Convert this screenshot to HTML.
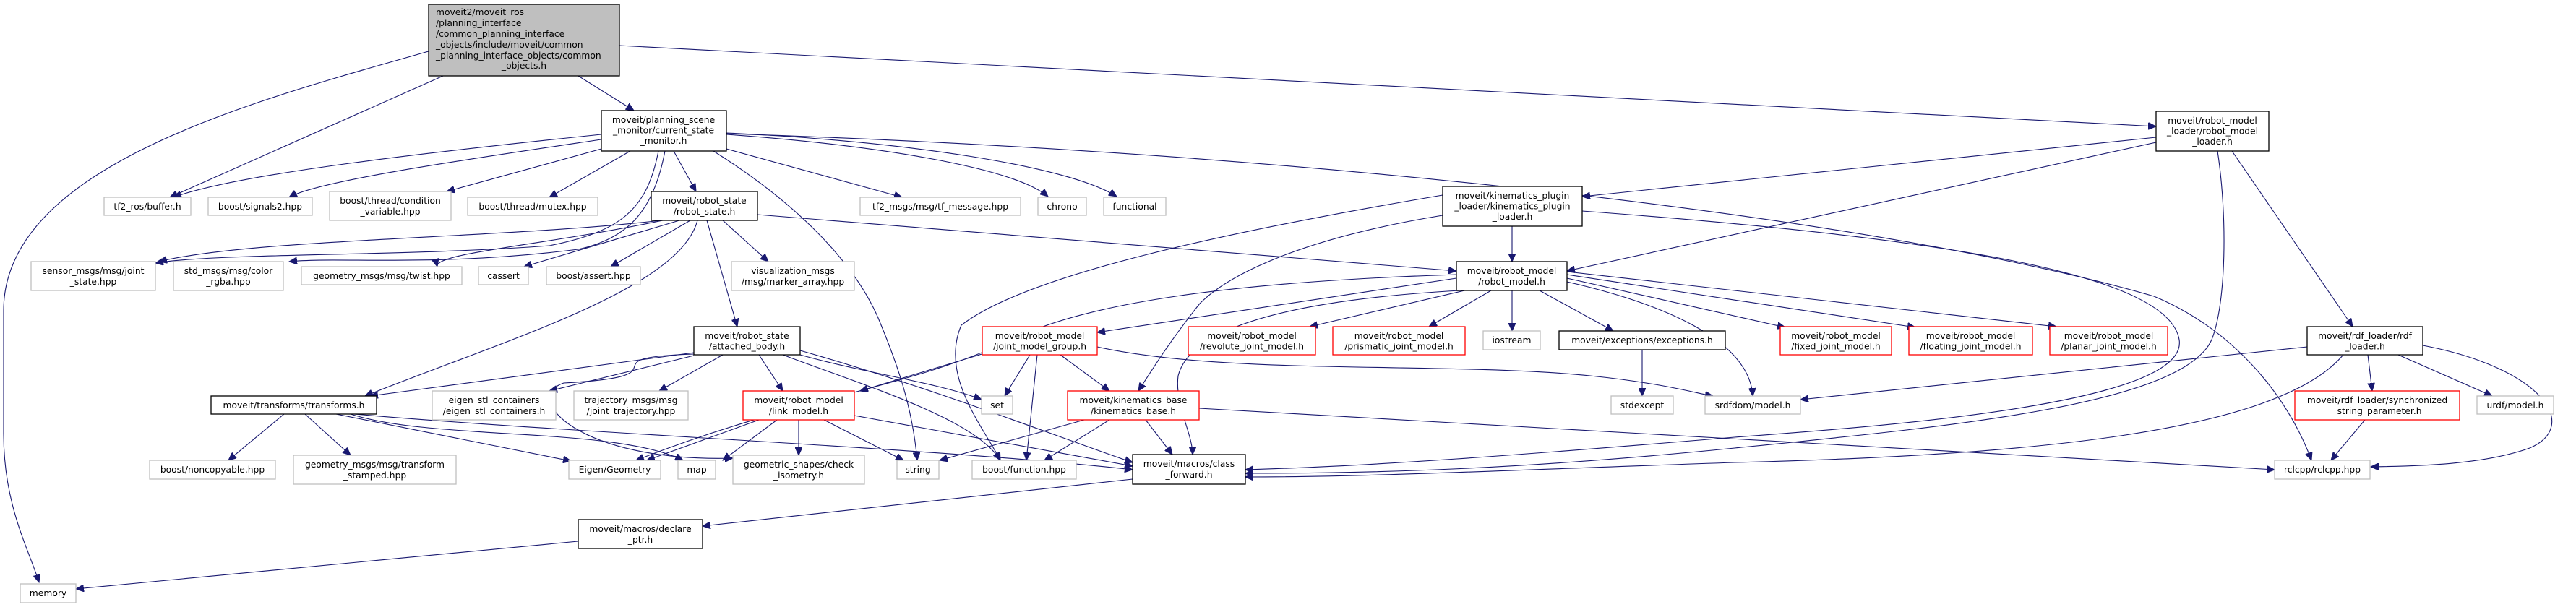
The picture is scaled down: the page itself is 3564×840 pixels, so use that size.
<!DOCTYPE html>
<html><head><meta charset="utf-8"><style>
html,body{margin:0;padding:0;background:#fff;}
svg{display:block;}
text{font-family:"DejaVu Sans","Liberation Sans",sans-serif;font-size:12.3px;fill:#000;}
.g{fill:#fff;stroke:#bfbfbf;stroke-width:1.3;}
.b{fill:#fff;stroke:#000;stroke-width:1.3;}
.r{fill:#fff;stroke:#ff0000;stroke-width:1.3;}
.e{fill:none;stroke:#191970;stroke-width:1.1;marker-end:url(#a);}
</style></head><body>
<svg width="3564" height="840" viewBox="0 0 3564 840" xmlns="http://www.w3.org/2000/svg">
<defs><marker id="a" markerUnits="userSpaceOnUse" markerWidth="12" markerHeight="10" refX="11" refY="5" orient="auto"><path d="M0,0 L11,5 L0,10 z" fill="#191970" stroke="#191970"/></marker></defs>

<!-- edges -->
<g>
<path class="e" d="M593,71 C350,140 5,230 5,430 L5,600 C5,700 40,760 54,806"/>
<path class="e" d="M613,105 L235,273"/>
<path class="e" d="M800,105 L877,153"/>
<path class="e" d="M857,63 L2983,175"/>

<path class="e" d="M832,186 C600,210 330,240 240,273"/>
<path class="e" d="M832,193 C650,220 440,250 400,273"/>
<path class="e" d="M832,206 L618,265"/>
<path class="e" d="M872,209 L760,273"/>
<path class="e" d="M932,209 L963,265"/>
<path class="e" d="M1005,206 L1248,273"/>
<path class="e" d="M1005,186 C1200,200 1400,230 1450,272"/>
<path class="e" d="M1005,184 C1250,195 1480,230 1545,272"/>
<path class="e" d="M1005,185 C1800,210 2600,300 2980,410 C3100,460 3170,560 3198,637"/>
<path class="e" d="M987,209 C1100,280 1180,360 1215,440 C1240,500 1262,560 1269,637"/>
<path class="e" d="M911,209 C895,290 860,320 760,340 C560,355 300,350 215,364"/>
<path class="e" d="M920,209 C905,290 870,330 800,345 C600,370 470,355 400,362"/>

<path class="e" d="M915,305 C700,330 350,330 220,362"/>
<path class="e" d="M917,305 C750,340 600,350 605,369"/>
<path class="e" d="M940,305 L725,369"/>
<path class="e" d="M955,305 L845,369"/>
<path class="e" d="M1000,305 L1063,362"/>
<path class="e" d="M1048,297 L2015,375"/>
<path class="e" d="M978,305 L1020,452"/>
<path class="e" d="M965,305 C940,400 700,470 505,548"/>

<path class="e" d="M960,488 L512,548"/>
<path class="e" d="M960,492 L760,541"/>
<path class="e" d="M1000,491 L912,541"/>
<path class="e" d="M1050,491 L1083,541"/>
<path class="e" d="M1107,491 C1200,517 1300,530 1358,553"/>
<path class="e" d="M1083,491 C1200,535 1350,580 1384,637"/>
<path class="e" d="M960,490 C800,495 960,520 780,530 C720,550 800,640 1014,634"/>
<path class="e" d="M1107,485 C1300,540 1450,600 1567,640"/>

<path class="e" d="M393,573 L316,637"/>
<path class="e" d="M422,573 L485,630"/>
<path class="e" d="M465,573 L790,638"/>
<path class="e" d="M485,573 C600,610 850,590 945,637"/>
<path class="e" d="M490,573 C800,600 1300,620 1567,650"/>

<path class="e" d="M1050,581 L895,637"/>
<path class="e" d="M1075,581 L1000,637"/>
<path class="e" d="M1105,581 L1105,630"/>
<path class="e" d="M1140,581 L1250,637"/>
<path class="e" d="M1182,575 L1567,645"/>

<path class="e" d="M1425,491 L1390,548"/>
<path class="e" d="M1435,491 L1420,637"/>
<path class="e" d="M1467,491 L1535,541"/>
<path class="e" d="M1365,488 L1190,541"/>
<path class="e" d="M1518,480 C1700,520 2000,500 2200,520 C2300,530 2350,545 2370,548"/>

<path class="e" d="M1500,581 L1300,637"/>
<path class="e" d="M1535,581 L1445,637"/>
<path class="e" d="M1585,581 L1622,629"/>
<path class="e" d="M1659,565 L3147,650"/>

<path class="e" d="M2092,313 L2092,362"/>
<path class="e" d="M1996,270 C1700,320 1420,380 1330,450 C1300,520 1360,590 1384,637"/>
<path class="e" d="M1996,298 C1800,330 1700,380 1660,420 C1620,470 1595,510 1575,541"/>
<path class="e" d="M2189,292 C2700,330 3000,380 3015,470 C3030,560 2600,590 2400,605 C2100,630 1900,645 1723,650"/>

<path class="e" d="M2983,190 L2189,272"/>
<path class="e" d="M2983,197 L2168,375"/>
<path class="e" d="M3068,209 C3082,300 3080,420 3060,470 C3020,560 2700,590 2400,620 C2100,650 1900,655 1723,655"/>
<path class="e" d="M3088,209 L3255,452"/>

<path class="e" d="M3192,480 L2491,553"/>
<path class="e" d="M3276,491 L3282,541"/>
<path class="e" d="M3318,491 L3448,548"/>
<path class="e" d="M3352,478 C3520,510 3570,590 3500,620 C3430,645 3330,645 3280,646"/>
<path class="e" d="M3242,491 C3150,600 2800,630 2400,640 C2100,650 1900,660 1723,660"/>
<path class="e" d="M3272,581 L3225,637"/>

<path class="e" d="M2015,385 L1518,460"/>
<path class="e" d="M2035,400 L1812,452"/>
<path class="e" d="M2063,402 L1977,452"/>
<path class="e" d="M2092,402 L2092,458"/>
<path class="e" d="M2130,402 L2232,458"/>
<path class="e" d="M2168,385 L2470,453"/>
<path class="e" d="M2168,380 L2650,453"/>
<path class="e" d="M2168,376 L2845,452"/>
<path class="e" d="M2168,390 C2300,420 2420,470 2425,548"/>
<path class="e" d="M2020,402 C1700,420 1640,480 1630,520 C1625,560 1650,600 1650,629"/>
<path class="e" d="M2015,380 C1700,390 1500,420 1400,470 C1250,540 1100,550 880,637"/>

<path class="e" d="M2272,484 L2272,548"/>
<path class="e" d="M1567,663 L972,728"/>
<path class="e" d="M800,749 L105,815"/>
</g>

<!-- nodes -->
<g>
<rect x="593" y="6" width="264" height="99" fill="#bfbfbf" stroke="#000" stroke-width="1.3"/>
<text x="603" y="21">moveit2/moveit_ros</text>
<text x="603" y="36">/planning_interface</text>
<text x="603" y="51">/common_planning_interface</text>
<text x="603" y="66">_objects/include/moveit/common</text>
<text x="603" y="81">_planning_interface_objects/common</text>
<text x="725" y="95" text-anchor="middle">_objects.h</text>
</g>
<g text-anchor="middle">
<rect class="b" x="832" y="153" width="173" height="56"/>
<text x="918" y="170">moveit/planning_scene</text><text x="918" y="184.5">_monitor/current_state</text><text x="918" y="199">_monitor.h</text>

<rect class="g" x="144" y="273" width="120" height="25"/><text x="204" y="290">tf2_ros/buffer.h</text>
<rect class="g" x="288" y="273" width="144" height="25"/><text x="360" y="290">boost/signals2.hpp</text>
<rect class="g" x="456" y="265" width="168" height="40"/><text x="540" y="282">boost/thread/condition</text><text x="540" y="297">_variable.hpp</text>
<rect class="g" x="647" y="273" width="180" height="25"/><text x="737" y="290">boost/thread/mutex.hpp</text>
<rect class="b" x="901" y="265" width="147" height="40"/><text x="974.5" y="282">moveit/robot_state</text><text x="974.5" y="297">/robot_state.h</text>
<rect class="g" x="1190" y="273" width="222" height="25"/><text x="1301" y="290">tf2_msgs/msg/tf_message.hpp</text>
<rect class="g" x="1436" y="273" width="67" height="25"/><text x="1469.5" y="290">chrono</text>
<rect class="g" x="1527" y="273" width="86" height="25"/><text x="1570" y="290">functional</text>
<rect class="b" x="1996" y="258" width="193" height="55"/><text x="2092.5" y="275">moveit/kinematics_plugin</text><text x="2092.5" y="289.5">_loader/kinematics_plugin</text><text x="2092.5" y="304">_loader.h</text>
<rect class="b" x="2983" y="154" width="156" height="55"/><text x="3061" y="171">moveit/robot_model</text><text x="3061" y="185.5">_loader/robot_model</text><text x="3061" y="200">_loader.h</text>

<rect class="g" x="43" y="362" width="172" height="40"/><text x="129" y="379">sensor_msgs/msg/joint</text><text x="129" y="394">_state.hpp</text>
<rect class="g" x="240" y="362" width="152" height="40"/><text x="316" y="379">std_msgs/msg/color</text><text x="316" y="394">_rgba.hpp</text>
<rect class="g" x="417" y="369" width="222" height="25"/><text x="528" y="386">geometry_msgs/msg/twist.hpp</text>
<rect class="g" x="662" y="369" width="69" height="25"/><text x="696.5" y="386">cassert</text>
<rect class="g" x="756" y="369" width="130" height="25"/><text x="821" y="386">boost/assert.hpp</text>
<rect class="g" x="1012" y="362" width="170" height="40"/><text x="1097" y="379">visualization_msgs</text><text x="1097" y="394">/msg/marker_array.hpp</text>
<rect class="b" x="2015" y="362" width="153" height="40"/><text x="2091.5" y="379">moveit/robot_model</text><text x="2091.5" y="394">/robot_model.h</text>

<rect class="b" x="960" y="452" width="147" height="39"/><text x="1033.5" y="469">moveit/robot_state</text><text x="1033.5" y="483.5">/attached_body.h</text>
<rect class="r" x="1359" y="452" width="159" height="39"/><text x="1438.5" y="469">moveit/robot_model</text><text x="1438.5" y="483.5">/joint_model_group.h</text>
<rect class="r" x="1644" y="452" width="176" height="39"/><text x="1732" y="469">moveit/robot_model</text><text x="1732" y="483.5">/revolute_joint_model.h</text>
<rect class="r" x="1844" y="452" width="183" height="39"/><text x="1935.5" y="469">moveit/robot_model</text><text x="1935.5" y="483.5">/prismatic_joint_model.h</text>
<rect class="g" x="2052" y="458" width="79" height="26"/><text x="2091.5" y="475">iostream</text>
<rect class="b" x="2157" y="458" width="230" height="26"/><text x="2272" y="475">moveit/exceptions/exceptions.h</text>
<rect class="r" x="2463" y="452" width="154" height="39"/><text x="2540" y="469">moveit/robot_model</text><text x="2540" y="483.5">/fixed_joint_model.h</text>
<rect class="r" x="2641" y="452" width="171" height="39"/><text x="2726.5" y="469">moveit/robot_model</text><text x="2726.5" y="483.5">/floating_joint_model.h</text>
<rect class="r" x="2836" y="452" width="163" height="39"/><text x="2917.5" y="469">moveit/robot_model</text><text x="2917.5" y="483.5">/planar_joint_model.h</text>
<rect class="b" x="3192" y="452" width="160" height="39"/><text x="3272" y="469">moveit/rdf_loader/rdf</text><text x="3272" y="483.5">_loader.h</text>

<rect class="b" x="292" y="548" width="229" height="25"/><text x="406.5" y="565">moveit/transforms/transforms.h</text>
<rect class="g" x="598" y="541" width="171" height="40"/><text x="683.5" y="558">eigen_stl_containers</text><text x="683.5" y="573">/eigen_stl_containers.h</text>
<rect class="g" x="794" y="541" width="158" height="40"/><text x="873" y="558">trajectory_msgs/msg</text><text x="873" y="573">/joint_trajectory.hpp</text>
<rect class="r" x="1028" y="541" width="154" height="40"/><text x="1105" y="558">moveit/robot_model</text><text x="1105" y="573">/link_model.h</text>
<rect class="g" x="1358" y="548" width="43" height="25"/><text x="1379.5" y="565">set</text>
<rect class="r" x="1477" y="541" width="182" height="40"/><text x="1568" y="558">moveit/kinematics_base</text><text x="1568" y="573">/kinematics_base.h</text>
<rect class="g" x="2229" y="548" width="86" height="25"/><text x="2272" y="565">stdexcept</text>
<rect class="g" x="2359" y="548" width="132" height="25"/><text x="2425" y="565">srdfdom/model.h</text>
<rect class="r" x="3175" y="541" width="228" height="40"/><text x="3289" y="558">moveit/rdf_loader/synchronized</text><text x="3289" y="573">_string_parameter.h</text>
<rect class="g" x="3427" y="548" width="106" height="25"/><text x="3480" y="565">urdf/model.h</text>

<rect class="g" x="207" y="637" width="174" height="26"/><text x="294" y="654">boost/noncopyable.hpp</text>
<rect class="g" x="406" y="630" width="225" height="40"/><text x="518.5" y="647">geometry_msgs/msg/transform</text><text x="518.5" y="662">_stamped.hpp</text>
<rect class="g" x="787" y="637" width="127" height="26"/><text x="850.5" y="654">Eigen/Geometry</text>
<rect class="g" x="938" y="637" width="52" height="26"/><text x="964" y="654">map</text>
<rect class="g" x="1014" y="630" width="182" height="40"/><text x="1105" y="647">geometric_shapes/check</text><text x="1105" y="662">_isometry.h</text>
<rect class="g" x="1241" y="637" width="58" height="26"/><text x="1270" y="654">string</text>
<rect class="g" x="1345" y="637" width="144" height="26"/><text x="1417" y="654">boost/function.hpp</text>
<rect class="b" x="1567" y="629" width="156" height="41"/><text x="1645" y="646">moveit/macros/class</text><text x="1645" y="661">_forward.h</text>
<rect class="g" x="3147" y="637" width="132" height="26"/><text x="3213" y="654">rclcpp/rclcpp.hpp</text>

<rect class="b" x="800" y="719" width="172" height="40"/><text x="886" y="736">moveit/macros/declare</text><text x="886" y="751">_ptr.h</text>
<rect class="g" x="28" y="808" width="77" height="26"/><text x="66.5" y="825">memory</text>
</g>
</svg>
</body></html>
